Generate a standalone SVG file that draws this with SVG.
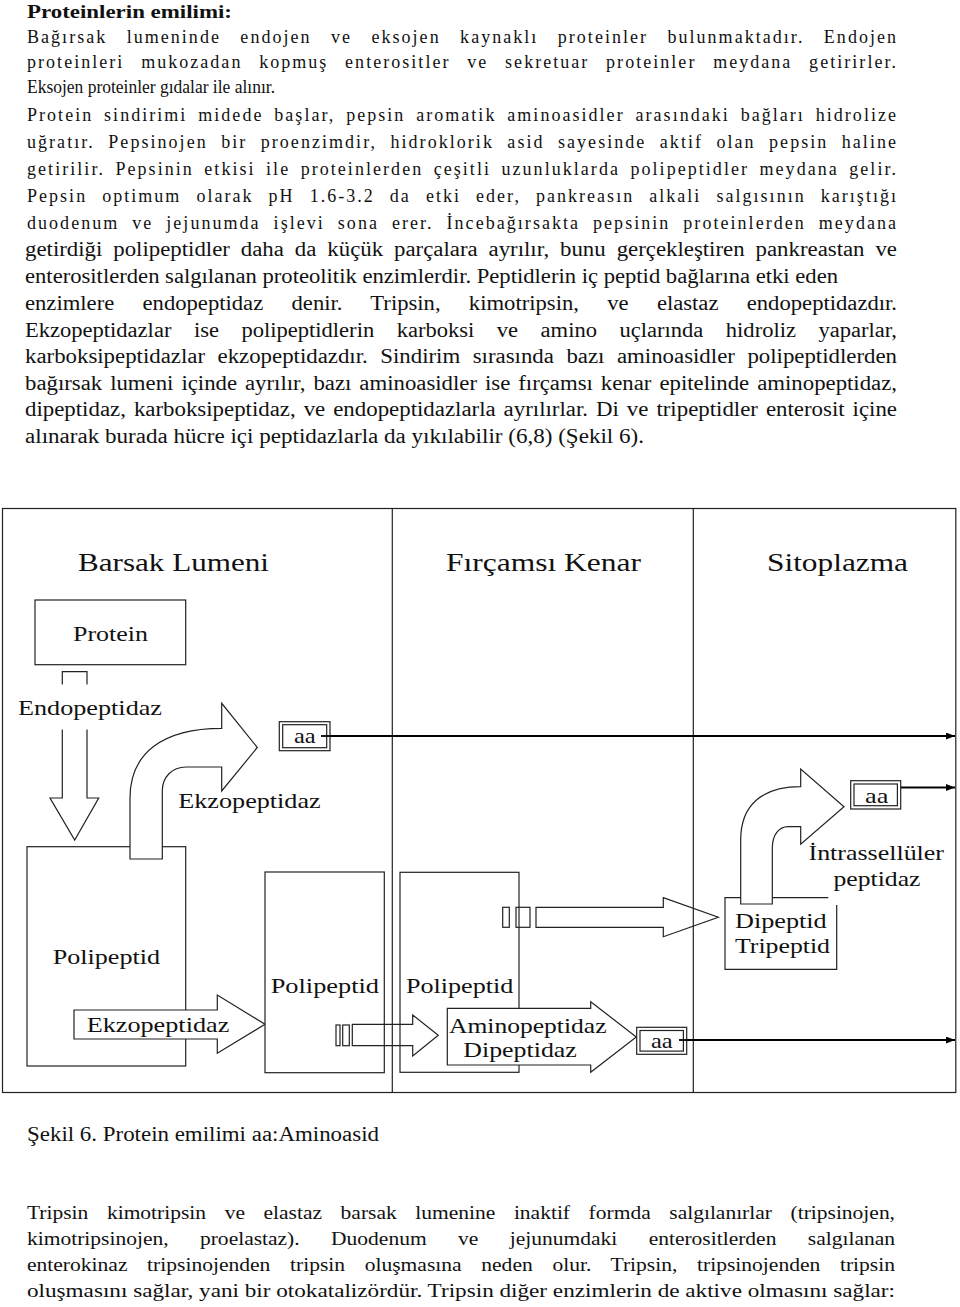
<svg xmlns="http://www.w3.org/2000/svg" width="960" height="1307" viewBox="0 0 960 1307">
<style>
.t{font-family:"Liberation Serif","Times New Roman",serif;fill:#111}
.p1{font-size:18px}
.p2{font-size:20px}
.b{font-size:19px}
.hd{font-size:19px;font-weight:bold}
.d{font-family:"Liberation Serif","Times New Roman",serif;fill:#111;font-size:22px}
.h{font-size:26px}
.s{fill:#fff;stroke:#222;stroke-width:1.2}
.n{fill:none;stroke:#222;stroke-width:1.2}
.c{fill:none;stroke:#000;stroke-width:1.8}
</style>
<defs>
<marker id="ah" markerUnits="userSpaceOnUse" markerWidth="10" markerHeight="8" refX="9" refY="3.5" orient="auto">
<path d="M0,0 L9,3.5 L0,7 Z" fill="#000"/>
</marker>
</defs>
<rect width="960" height="1307" fill="#fff"/>
<g id="text-top">
<text class="t hd" x="27" y="17.5" textLength="205" lengthAdjust="spacingAndGlyphs">Proteinlerin emilimi:</text>
<text class="t p1" x="27" y="43" word-spacing="12.9" textLength="869" lengthAdjust="spacing">Bağırsak lumeninde endojen ve eksojen kaynaklı proteinler bulunmaktadır. Endojen</text>
<text class="t p1" x="27" y="67.5" word-spacing="10.2" textLength="869" lengthAdjust="spacing">proteinleri mukozadan kopmuş enterositler ve sekretuar proteinler meydana getirirler.</text>
<text class="t p1" x="27" y="92.5" textLength="248" lengthAdjust="spacingAndGlyphs">Eksojen proteinler gıdalar ile alınır.</text>
<text class="t p1" x="27" y="120.5" word-spacing="4.3" textLength="869" lengthAdjust="spacing">Protein sindirimi midede başlar, pepsin aromatik aminoasidler arasındaki bağları hidrolize</text>
<text class="t p1" x="27" y="147.5" word-spacing="6.9" textLength="869" lengthAdjust="spacing">uğratır. Pepsinojen bir proenzimdir, hidroklorik asid sayesinde aktif olan pepsin haline</text>
<text class="t p1" x="27" y="174.5" word-spacing="3.9" textLength="869" lengthAdjust="spacing">getirilir. Pepsinin etkisi ile proteinlerden çeşitli uzunluklarda polipeptidler meydana gelir.</text>
<text class="t p1" x="27" y="201.5" word-spacing="8.5" textLength="869" lengthAdjust="spacing">Pepsin optimum olarak  pH 1.6-3.2 da etki eder, pankreasın alkali salgısının karıştığı</text>
<text class="t p1" x="27" y="228.5" word-spacing="6.4" textLength="869" lengthAdjust="spacing">duodenum ve jejunumda işlevi sona erer. İncebağırsakta pepsinin proteinlerden meydana</text>
<text class="t p2" x="25" y="256" word-spacing="4.6" textLength="872" lengthAdjust="spacingAndGlyphs">getirdiği polipeptidler daha da küçük parçalara ayrılır, bunu gerçekleştiren pankreastan ve</text>
<text class="t p2" x="25" y="283" textLength="813" lengthAdjust="spacingAndGlyphs">enterositlerden salgılanan proteolitik enzimlerdir. Peptidlerin iç peptid bağlarına etki eden</text>
<text class="t p2" x="25" y="310" word-spacing="20" textLength="872" lengthAdjust="spacingAndGlyphs">enzimlere endopeptidaz denir. Tripsin, kimotripsin, ve elastaz endopeptidazdır.</text>
<text class="t p2" x="25" y="337" word-spacing="15" textLength="872" lengthAdjust="spacingAndGlyphs">Ekzopeptidazlar ise polipeptidlerin karboksi ve amino uçlarında hidroliz yaparlar,</text>
<text class="t p2" x="25" y="363" word-spacing="6" textLength="872" lengthAdjust="spacingAndGlyphs">karboksipeptidazlar ekzopeptidazdır. Sindirim sırasında bazı aminoasidler polipeptidlerden</text>
<text class="t p2" x="25" y="390" word-spacing="2" textLength="872" lengthAdjust="spacingAndGlyphs">bağırsak lumeni içinde ayrılır, bazı aminoasidler ise fırçamsı kenar epitelinde aminopeptidaz,</text>
<text class="t p2" x="25" y="416" word-spacing="2" textLength="872" lengthAdjust="spacingAndGlyphs">dipeptidaz, karboksipeptidaz, ve endopeptidazlarla ayrılırlar. Di ve tripeptidler enterosit içine</text>
<text class="t p2" x="25" y="443" textLength="619" lengthAdjust="spacingAndGlyphs">alınarak burada hücre içi peptidazlarla da yıkılabilir (6,8) (Şekil 6).</text>
</g>
<g id="frame">
<rect x="2.5" y="508.5" width="953.3" height="584" class="n" stroke-width="1.4"/>
<line x1="392.3" y1="508.5" x2="392.3" y2="1092.5" class="n"/>
<line x1="693.3" y1="508.5" x2="693.3" y2="1092.5" class="n"/>
<text class="d h" x="78" y="571" textLength="191" lengthAdjust="spacingAndGlyphs">Barsak Lumeni</text>
<text class="d h" x="446" y="571" textLength="195" lengthAdjust="spacingAndGlyphs">Fırçamsı Kenar</text>
<text class="d h" x="767" y="571" textLength="141" lengthAdjust="spacingAndGlyphs">Sitoplazma</text>
</g>
<g id="connectors">
<line x1="321" y1="736" x2="955" y2="736" class="c" marker-end="url(#ah)"/>
<line x1="900.7" y1="787.5" x2="955" y2="787.5" class="c" marker-end="url(#ah)"/>
<line x1="679" y1="1040" x2="955" y2="1040" class="c" marker-end="url(#ah)"/>
</g>
<g id="protein">
<rect x="35" y="600" width="150.7" height="64.7" class="s"/>
<text class="d" x="73" y="641" textLength="75" lengthAdjust="spacingAndGlyphs">Protein</text>
</g>
<g id="endopeptidaz-arrow">
<polygon points="62.3,671.7 87,671.7 87,798 98.7,798 74.7,840 50,798 62.3,798" class="s"/>
<rect x="14" y="684.5" width="152" height="45" fill="#fff"/>
<text class="d" x="18" y="715" textLength="144" lengthAdjust="spacingAndGlyphs">Endopeptidaz</text>
</g>
<g id="polipeptid-1">
<rect x="27" y="846.7" width="158.7" height="219.3" class="s"/>
<text class="d" x="52.7" y="964.3" textLength="107.3" lengthAdjust="spacingAndGlyphs">Polipeptid</text>
</g>
<g id="ekzopeptidaz-curved-arrow">
<path d="M130,859 L130,798 C130,753 163,728.3 221.7,728.3 L221.7,703.3 L257.3,747.5 L221.7,791 L221.7,767 L186,767 C172,767 162.3,777 162.3,791 L162.3,859 Z" class="s"/>
<text class="d" x="178.3" y="808.3" textLength="142.4" lengthAdjust="spacingAndGlyphs">Ekzopeptidaz</text>
</g>
<g id="aa-1">
<rect x="279.3" y="721.7" width="50.7" height="29" class="s"/>
<rect x="282.7" y="724.7" width="44" height="23" class="n"/>
<text class="d" x="294" y="743.3" textLength="21.7" lengthAdjust="spacingAndGlyphs">aa</text>
<line x1="321" y1="736" x2="331" y2="736" class="c"/>
</g>
<g id="ekzopeptidaz-arrow">
<polygon points="74,1010 217.3,1010 217.3,995 265,1024.3 217.3,1053.3 217.3,1039 74,1039" class="s"/>
<text class="d" x="86.7" y="1032.3" textLength="142.6" lengthAdjust="spacingAndGlyphs">Ekzopeptidaz</text>
</g>
<g id="polipeptid-2">
<rect x="265" y="872" width="119.3" height="200.7" class="s"/>
<text class="d" x="270.7" y="993.3" textLength="108.3" lengthAdjust="spacingAndGlyphs">Polipeptid</text>
</g>
<g id="polipeptid-3">
<rect x="400" y="872.3" width="119" height="200" class="s"/>
<text class="d" x="406" y="993.3" textLength="107.3" lengthAdjust="spacingAndGlyphs">Polipeptid</text>
</g>
<g id="dipeptid-arrow-1">
<rect x="336" y="1025" width="4" height="20.7" class="s"/>
<rect x="342.7" y="1025" width="6.6" height="20.7" class="s"/>
<polygon points="352.3,1024.3 412.7,1024.3 412.7,1015 438.3,1035.3 412.7,1056 412.7,1045.7 352.3,1045.7" class="n"/>
</g>
<g id="aminopeptidaz-arrow">
<polygon points="447.3,1008.3 590.7,1008.3 590.7,1001.7 636.3,1037 590.7,1072.3 590.7,1065 447.3,1065" class="s"/>
<text class="d" x="449" y="1032.5" textLength="157.5" lengthAdjust="spacingAndGlyphs">Aminopeptidaz</text>
<text class="d" x="463.3" y="1057" textLength="113.5" lengthAdjust="spacingAndGlyphs">Dipeptidaz</text>
</g>
<g id="aa-3">
<rect x="636.7" y="1027.3" width="50" height="27" class="s"/>
<rect x="640" y="1030.5" width="43.4" height="20.6" class="n"/>
<text class="d" x="651" y="1048.3" textLength="21.7" lengthAdjust="spacingAndGlyphs">aa</text>
<line x1="679" y1="1040" x2="687" y2="1040" class="c"/>
</g>
<g id="dipeptid-arrow-2">
<rect x="502.7" y="907.3" width="6.6" height="20" class="s"/>
<rect x="516" y="907.3" width="14" height="20" class="n"/>
<polygon points="536,907.3 663.3,907.3 663.3,897.7 718.3,917.3 663.3,936.7 663.3,927.3 536,927.3" class="n"/>
</g>
<g id="dipeptid-tripeptid">
<path d="M828.3,897.7 L725,897.7 L725,969.3 L836.7,969.3 L836.7,905" class="n"/>
<text class="d" x="735" y="928.3" textLength="91.7" lengthAdjust="spacingAndGlyphs">Dipeptid</text>
<text class="d" x="735" y="953.3" textLength="95" lengthAdjust="spacingAndGlyphs">Tripeptid</text>
</g>
<g id="intrasellular-arrow">
<path d="M740.7,904 L740.7,840 C740.7,805 762,786.7 800.7,786.7 L800.7,769 L844,806.7 L800.7,844.3 L800.7,826.7 L788,826.7 C779,826.7 772.3,835 772.3,848 L772.3,904 Z" class="s"/>
<text class="d" x="808.5" y="860" textLength="135.5" lengthAdjust="spacingAndGlyphs">İntrassellüler</text>
<text class="d" x="833.5" y="885.5" textLength="87" lengthAdjust="spacingAndGlyphs">peptidaz</text>
</g>
<g id="aa-2">
<rect x="850.7" y="780.7" width="50" height="28.3" class="s"/>
<rect x="854" y="784" width="43.4" height="21.7" class="n"/>
<text class="d" x="865" y="802.7" textLength="23.3" lengthAdjust="spacingAndGlyphs">aa</text>
</g>
<g id="text-bottom">
<text class="t p2" x="27" y="1141" textLength="352" lengthAdjust="spacingAndGlyphs">Şekil 6. Protein emilimi aa:Aminoasid</text>
<text class="t b" x="27" y="1219" word-spacing="11.7" textLength="868" lengthAdjust="spacingAndGlyphs">Tripsin kimotripsin ve elastaz barsak lumenine inaktif formda salgılanırlar (tripsinojen,</text>
<text class="t b" x="27" y="1245" word-spacing="23" textLength="868" lengthAdjust="spacingAndGlyphs">kimotripsinojen, proelastaz). Duodenum ve jejunumdaki enterositlerden salgılanan</text>
<text class="t b" x="27" y="1271" word-spacing="12.6" textLength="868" lengthAdjust="spacingAndGlyphs">enterokinaz tripsinojenden tripsin oluşmasına neden olur. Tripsin, tripsinojenden tripsin</text>
<text class="t b" x="27" y="1297" textLength="868" lengthAdjust="spacingAndGlyphs">oluşmasını sağlar, yani bir otokatalizördür. Tripsin diğer enzimlerin de aktive olmasını sağlar:</text>
</g>
</svg>
